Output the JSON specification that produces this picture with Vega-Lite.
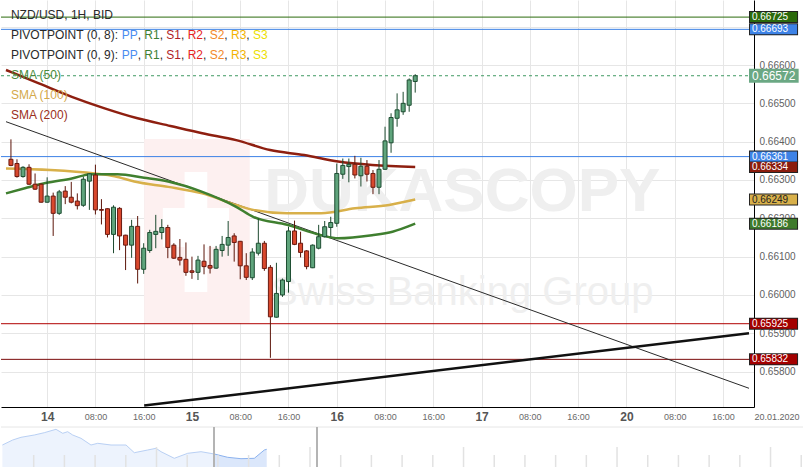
{
  "$schema": "https://vega.github.io/schema/vega-lite/v6.json",
  "padding": 0,
  "background": "white",
  "bounds": "flush",
  "spacing": 20,
  "config": {"view": {"stroke": null}, "font": "Liberation Sans"},
  "datasets": {
    "candles": [
      {"h":-6,"o":0.66354,"hi":0.66406,"lo":0.66336,"c":0.66338},
      {"h":-5,"o":0.66343,"hi":0.66354,"lo":0.66306,"c":0.66309},
      {"h":-4,"o":0.66309,"hi":0.66336,"lo":0.66306,"c":0.66333},
      {"h":-3,"o":0.66333,"hi":0.66341,"lo":0.66287,"c":0.66289},
      {"h":-2,"o":0.66289,"hi":0.66317,"lo":0.66274,"c":0.66276},
      {"h":-1,"o":0.66289,"hi":0.66291,"lo":0.66241,"c":0.66242},
      {"h":0,"o":0.66242,"hi":0.66307,"lo":0.66241,"c":0.66258},
      {"h":1,"o":0.66258,"hi":0.66267,"lo":0.66154,"c":0.66213},
      {"h":2,"o":0.66213,"hi":0.66274,"lo":0.66209,"c":0.66269},
      {"h":3,"o":0.66271,"hi":0.66284,"lo":0.66237,"c":0.66255},
      {"h":4,"o":0.66255,"hi":0.66295,"lo":0.66239,"c":0.66242},
      {"h":5,"o":0.66245,"hi":0.66265,"lo":0.66223,"c":0.66233},
      {"h":6,"o":0.66234,"hi":0.66309,"lo":0.6623,"c":0.66302},
      {"h":7,"o":0.66297,"hi":0.66317,"lo":0.66222,"c":0.66316},
      {"h":8,"o":0.66313,"hi":0.6634,"lo":0.6621,"c":0.66222},
      {"h":9,"o":0.66223,"hi":0.6625,"lo":0.66184,"c":0.66221},
      {"h":10,"o":0.66225,"hi":0.66226,"lo":0.6615,"c":0.66158},
      {"h":11,"o":0.66158,"hi":0.66234,"lo":0.66109,"c":0.66229},
      {"h":12,"o":0.66226,"hi":0.66229,"lo":0.66117,"c":0.66154},
      {"h":13,"o":0.66156,"hi":0.66157,"lo":0.66065,"c":0.6613},
      {"h":14,"o":0.6613,"hi":0.66196,"lo":0.66097,"c":0.66179},
      {"h":15,"o":0.66179,"hi":0.66206,"lo":0.6603,"c":0.66067},
      {"h":16,"o":0.66067,"hi":0.66135,"lo":0.66055,"c":0.66122},
      {"h":17,"o":0.66116,"hi":0.6617,"lo":0.6611,"c":0.66163},
      {"h":18,"o":0.66158,"hi":0.66209,"lo":0.66122,"c":0.66166},
      {"h":19,"o":0.66163,"hi":0.66198,"lo":0.66145,"c":0.66176},
      {"h":20,"o":0.66176,"hi":0.66183,"lo":0.66096,"c":0.66124},
      {"h":21,"o":0.6613,"hi":0.66135,"lo":0.66094,"c":0.66096},
      {"h":22,"o":0.66098,"hi":0.66146,"lo":0.66077,"c":0.66091},
      {"h":23,"o":0.66093,"hi":0.66137,"lo":0.6605,"c":0.66059},
      {"h":24,"o":0.66063,"hi":0.661,"lo":0.66042,"c":0.66059},
      {"h":25,"o":0.66059,"hi":0.66102,"lo":0.66039,"c":0.66091},
      {"h":26,"o":0.66088,"hi":0.66132,"lo":0.66054,"c":0.66074},
      {"h":27,"o":0.66077,"hi":0.66128,"lo":0.66056,"c":0.6607},
      {"h":28,"o":0.6607,"hi":0.66128,"lo":0.66068,"c":0.66119},
      {"h":29,"o":0.66116,"hi":0.66154,"lo":0.661,"c":0.66132},
      {"h":30,"o":0.6613,"hi":0.66193,"lo":0.66102,"c":0.6615},
      {"h":31,"o":0.66154,"hi":0.66161,"lo":0.66087,"c":0.66137},
      {"h":32,"o":0.6614,"hi":0.66141,"lo":0.66041,"c":0.66076},
      {"h":33,"o":0.66076,"hi":0.66109,"lo":0.66039,"c":0.66046},
      {"h":34,"o":0.66045,"hi":0.66122,"lo":0.66039,"c":0.66112},
      {"h":35,"o":0.66109,"hi":0.662,"lo":0.66103,"c":0.66135},
      {"h":36,"o":0.66135,"hi":0.66141,"lo":0.66063,"c":0.66069},
      {"h":37,"o":0.66072,"hi":0.66078,"lo":0.65836,"c":0.65943},
      {"h":38,"o":0.65942,"hi":0.66084,"lo":0.65941,"c":0.66004},
      {"h":39,"o":0.66,"hi":0.66043,"lo":0.65995,"c":0.66039},
      {"h":40,"o":0.66035,"hi":0.66178,"lo":0.66006,"c":0.66167},
      {"h":41,"o":0.66167,"hi":0.66194,"lo":0.6613,"c":0.66132},
      {"h":42,"o":0.66135,"hi":0.66165,"lo":0.66098,"c":0.66111},
      {"h":43,"o":0.66115,"hi":0.66117,"lo":0.66067,"c":0.66074},
      {"h":44,"o":0.66071,"hi":0.66132,"lo":0.6607,"c":0.6613},
      {"h":45,"o":0.66122,"hi":0.66183,"lo":0.66119,"c":0.66152},
      {"h":46,"o":0.66152,"hi":0.66193,"lo":0.6615,"c":0.66178},
      {"h":47,"o":0.66176,"hi":0.66204,"lo":0.66152,"c":0.66189},
      {"h":48,"o":0.66187,"hi":0.66343,"lo":0.66178,"c":0.66317},
      {"h":49,"o":0.66315,"hi":0.66356,"lo":0.66303,"c":0.66338},
      {"h":50,"o":0.66335,"hi":0.66356,"lo":0.66294,"c":0.66341},
      {"h":51,"o":0.66341,"hi":0.66363,"lo":0.66304,"c":0.66313},
      {"h":52,"o":0.66311,"hi":0.66358,"lo":0.66283,"c":0.66336},
      {"h":53,"o":0.66336,"hi":0.66352,"lo":0.66296,"c":0.66315},
      {"h":54,"o":0.66317,"hi":0.66326,"lo":0.66263,"c":0.66281},
      {"h":55,"o":0.66281,"hi":0.66352,"lo":0.66263,"c":0.66328},
      {"h":56,"o":0.66328,"hi":0.66439,"lo":0.66326,"c":0.66402},
      {"h":57,"o":0.66397,"hi":0.66474,"lo":0.66371,"c":0.66463},
      {"h":58,"o":0.66461,"hi":0.66526,"lo":0.66439,"c":0.66483},
      {"h":59,"o":0.66478,"hi":0.6653,"lo":0.6647,"c":0.665},
      {"h":60,"o":0.66495,"hi":0.66565,"lo":0.66478,"c":0.66561},
      {"h":61,"o":0.66557,"hi":0.66576,"lo":0.66528,"c":0.66572}
    ],
    "sma": [
      {"s":"SMA (200)","h":-6.82,"p":0.66587},{"s":"SMA (200)","h":-1.37,"p":0.66552},{"s":"SMA (200)","h":4.09,"p":0.66517},
      {"s":"SMA (200)","h":9.53,"p":0.66487},{"s":"SMA (200)","h":14.98,"p":0.66461},{"s":"SMA (200)","h":20.44,"p":0.66441},
      {"s":"SMA (200)","h":25.71,"p":0.66422},{"s":"SMA (200)","h":31.33,"p":0.66404},{"s":"SMA (200)","h":36.96,"p":0.66378},
      {"s":"SMA (200)","h":42.6,"p":0.66365},{"s":"SMA (200)","h":48.23,"p":0.66348},{"s":"SMA (200)","h":53.85,"p":0.66339},
      {"s":"SMA (200)","h":61,"p":0.66334},
      {"s":"SMA (100)","h":-6.82,"p":0.6633},{"s":"SMA (100)","h":0.54,"p":0.66326},{"s":"SMA (100)","h":7.9,"p":0.66317},
      {"s":"SMA (100)","h":11.17,"p":0.6631},{"s":"SMA (100)","h":14.44,"p":0.66296},{"s":"SMA (100)","h":20.07,"p":0.66282},
      {"s":"SMA (100)","h":25.71,"p":0.66265},{"s":"SMA (100)","h":31.33,"p":0.66235},{"s":"SMA (100)","h":34.15,"p":0.66222},
      {"s":"SMA (100)","h":39.79,"p":0.66213},{"s":"SMA (100)","h":45.41,"p":0.66213},{"s":"SMA (100)","h":51.04,"p":0.66226},
      {"s":"SMA (100)","h":56.68,"p":0.66235},{"s":"SMA (100)","h":61,"p":0.66249},
      {"s":"SMA (50)","h":-6.82,"p":0.66265},{"s":"SMA (50)","h":-3.55,"p":0.66279},{"s":"SMA (50)","h":-0.28,"p":0.66292},
      {"s":"SMA (50)","h":4.09,"p":0.66304},{"s":"SMA (50)","h":7.36,"p":0.66315},{"s":"SMA (50)","h":11.66,"p":0.66315},
      {"s":"SMA (50)","h":16.08,"p":0.66306},{"s":"SMA (50)","h":20.07,"p":0.66296},{"s":"SMA (50)","h":25.71,"p":0.66269},
      {"s":"SMA (50)","h":31.33,"p":0.6623},{"s":"SMA (50)","h":34.15,"p":0.66204},{"s":"SMA (50)","h":39.79,"p":0.66183},
      {"s":"SMA (50)","h":45.41,"p":0.66156},{"s":"SMA (50)","h":48.23,"p":0.66148},{"s":"SMA (50)","h":53.85,"p":0.66156},
      {"s":"SMA (50)","h":57.24,"p":0.66165},{"s":"SMA (50)","h":61,"p":0.66186}
    ],
    "levels": [
      {"k":"R1 (0, 9)","p":0.66725},
      {"k":"PP (0, 9)","p":0.66693},
      {"k":"PP (0, 8)","p":0.66361},
      {"k":"S1 (0, 8)","p":0.65925},
      {"k":"S1 (0, 9)","p":0.65832}
    ],
    "tags": [
      {"k":"R1 (0, 9)","p":0.66725},
      {"k":"PP (0, 9)","p":0.66693},
      {"k":"PP (0, 8)","p":0.66361},
      {"k":"SMA (200)","p":0.66334},
      {"k":"SMA (100)","p":0.66249},
      {"k":"SMA (50)","p":0.66186},
      {"k":"S1 (0, 8)","p":0.65925},
      {"k":"S1 (0, 9)","p":0.65832}
    ],
    "trend": [
      {"line":"thin","h":-6.819,"p":0.664521},
      {"line":"thin","h":116.32,"p":0.657565},
      {"line":"thick","h":16.08,"p":0.657116},
      {"line":"thick","h":116.32,"p":0.659}
    ],
    "nav": [
      {"t":-0.02,"v":0.6616},{"t":0.316,"v":0.6631},{"t":0.586,"v":0.66391},{"t":1.02,"v":0.6646},
      {"t":1.345,"v":0.66529},{"t":1.726,"v":0.66631},{"t":1.945,"v":0.66511},{"t":2.107,"v":0.66559},
      {"t":2.27,"v":0.6646},{"t":2.541,"v":0.66361},{"t":2.866,"v":0.6616},{"t":3.085,"v":0.66211},
      {"t":3.518,"v":0.6616},{"t":4.007,"v":0.6616},{"t":4.277,"v":0.65929},{"t":4.713,"v":0.6601},
      {"t":4.984,"v":0.66061},{"t":5.147,"v":0.65959},{"t":5.58,"v":0.65761},{"t":6.016,"v":0.65911},
      {"t":6.45,"v":0.65959},{"t":6.883,"v":0.6589},{"t":7.319,"v":0.65791},{"t":7.752,"v":0.65749},
      {"t":8.186,"v":0.65761},{"t":8.511,"v":0.6601},{"t":8.59,"v":0.66031}
    ],
    "navdays": [
      {"t":1},{"t":2},{"t":3},{"t":4},{"t":6},{"t":7},{"t":8},{"t":9},{"t":11},{"t":12},{"t":13},{"t":14},
      {"t":16},{"t":17},{"t":18},{"t":19},{"t":21},{"t":22},{"t":23},{"t":24},{"t":26}
    ],
    "navweeks": [{"t":5},{"t":10},{"t":15},{"t":20},{"t":25}],
    "handles": [{"t":6.873},{"t":10.228}]
  },
  "vconcat": [
    {
      "width": 753,
      "height": 407,
      "resolve": {"scale": {"color": "independent"}},
      "layer": [
        {
          "data": {"values": [{}]},
          "mark": {"type": "rect", "color": "#fdf0f0"},
          "encoding": {
            "x": {
              "datum": 16.08, "type": "quantitative",
              "scale": {"domain": [-6.819, 116.32], "nice": false, "zero": false},
              "axis": {
                "title": "20.01.2020", "titleX": 753, "titleY": 9, "titleAlign": "left", "titleBaseline": "middle",
                "titleFontSize": 9, "titleFontWeight": "normal", "titleColor": "#666666", "titleAngle": 0,
                "values": [0, 8, 16, 24, 32, 40, 48, 56, 64, 72, 80, 88, 96, 104, 112],
                "labelExpr": "datum.value == 0 ? '14' : datum.value == 24 ? '15' : datum.value == 48 ? '16' : datum.value == 72 ? '17' : datum.value == 96 ? '20' : datum.value % 24 == 8 ? '08:00' : '16:00'",
                "labelFontSize": {"condition": {"test": "datum.value % 24 == 0", "value": 12}, "value": 9},
                "labelFontWeight": {"condition": {"test": "datum.value % 24 == 0", "value": "bold"}, "value": "normal"},
                "labelColor": {"condition": {"test": "datum.value % 24 == 0", "value": "#555555"}, "value": "#6a6a6a"},
                "labelBaseline": "middle", "labelPadding": 9, "labelOverlap": false,
                "ticks": false, "grid": true, "gridColor": "#e6e6e6", "domainColor": "#000000", "domainWidth": 1
              }
            },
            "x2": {"datum": 33.57},
            "y": {
              "datum": 0.664069, "type": "quantitative",
              "scale": {"domain": [0.657077, 0.667696], "nice": false, "zero": false},
              "axis": {
                "orient": "right", "title": null,
                "values": [0.658, 0.659, 0.66, 0.661, 0.662, 0.663, 0.664, 0.665, 0.666, 0.667],
                "labelExpr": "datum.value > 0.6665 ? '' : format(datum.value, '.5f')",
                "ticks": false, "grid": true, "gridColor": "#e6e6e6",
                "domainColor": "#000000", "domainWidth": 1, "labelPadding": 5, "labelFontSize": 10,
                "labelColor": "#5f5f5f", "labelOverlap": false
              }
            },
            "y2": {"datum": 0.659269}
          }
        },
        {
          "data": {"values": [{}]},
          "mark": {"type": "rect", "color": "#ffffff"},
          "encoding": {
            "x": {"datum": 22.78, "type": "quantitative"}, "x2": {"datum": 26.54},
            "y": {"datum": 0.663208, "type": "quantitative"}, "y2": {"datum": 0.660078}
          }
        },
        {
          "data": {"values": [{}]},
          "mark": {"type": "rect", "color": "#ffffff"},
          "encoding": {
            "x": {"datum": 19.18, "type": "quantitative"}, "x2": {"datum": 30.14},
            "y": {"datum": 0.662269, "type": "quantitative"}, "y2": {"datum": 0.661252}
          }
        },
        {
          "data": {"values": [{}]},
          "mark": {"type": "text", "text": "DUKASCOPY", "fontSize": 62, "fontWeight": "bold", "color": "#efefef", "align": "center", "baseline": "alphabetic"},
          "encoding": {"x": {"datum": 68.8, "type": "quantitative"}, "y": {"datum": 0.662186, "type": "quantitative"}}
        },
        {
          "data": {"values": [{}]},
          "mark": {"type": "text", "text": "Swiss Banking Group", "fontSize": 40, "color": "#efefef", "align": "center", "baseline": "alphabetic"},
          "encoding": {"x": {"datum": 68.8, "type": "quantitative"}, "y": {"datum": 0.659738, "type": "quantitative"}}
        },
        {
          "data": {"name": "levels"},
          "mark": {"type": "rule", "strokeWidth": 1},
          "encoding": {
            "y": {"field": "p", "type": "quantitative"},
            "color": {
              "field": "k", "type": "nominal", "legend": null,
              "scale": {"domain": ["R1 (0, 9)", "PP (0, 9)", "PP (0, 8)", "S1 (0, 8)", "S1 (0, 9)"],
                        "range": ["#2b6a0c", "#3d82e6", "#3d82e6", "#b00000", "#7a0a0a"]}
            }
          }
        },
        {
          "data": {"values": [{}]},
          "mark": {"type": "rule", "color": "#3f9a62", "strokeDash": [3, 3], "strokeWidth": 1},
          "encoding": {"y": {"datum": 0.66572, "type": "quantitative"}}
        },
        {
          "data": {"name": "trend"},
          "transform": [{"filter": "datum.line == 'thin'"}],
          "mark": {"type": "line", "color": "#2a2a2a", "strokeWidth": 1, "clip": true},
          "encoding": {"x": {"field": "h", "type": "quantitative"}, "y": {"field": "p", "type": "quantitative"}}
        },
        {
          "data": {"name": "trend"},
          "transform": [{"filter": "datum.line == 'thick'"}],
          "mark": {"type": "line", "color": "#111111", "strokeWidth": 2.5, "clip": true},
          "encoding": {"x": {"field": "h", "type": "quantitative"}, "y": {"field": "p", "type": "quantitative"}}
        },
        {
          "data": {"name": "sma"},
          "mark": {"type": "line", "strokeWidth": 2.5, "interpolate": "monotone", "clip": true},
          "encoding": {
            "x": {"field": "h", "type": "quantitative"},
            "y": {"field": "p", "type": "quantitative"},
            "color": {
              "field": "s", "type": "nominal", "legend": null,
              "scale": {"domain": ["SMA (50)", "SMA (100)", "SMA (200)"], "range": ["#3f7f2f", "#d8b04a", "#8e1f10"]}
            }
          }
        },
        {
          "data": {"name": "candles"},
          "mark": {"type": "rule", "strokeWidth": 1},
          "encoding": {
            "x": {"field": "h", "type": "quantitative"},
            "y": {"field": "lo", "type": "quantitative"},
            "y2": {"field": "hi"},
            "color": {"condition": {"test": "datum.c >= datum.o", "value": "#1d4a2f"}, "value": "#5c1509"}
          }
        },
        {
          "data": {"name": "candles"},
          "mark": {"type": "bar", "width": 4, "strokeWidth": 1},
          "encoding": {
            "x": {"field": "h", "type": "quantitative"},
            "y": {"field": "o", "type": "quantitative"},
            "y2": {"field": "c"},
            "fill": {"condition": {"test": "datum.c >= datum.o", "value": "#5fa47c"}, "value": "#d9482d"},
            "stroke": {"condition": {"test": "datum.c >= datum.o", "value": "#1e4d32"}, "value": "#6a1a10"}
          }
        },
        {
          "data": {"values": [{}]},
          "mark": {"type": "text", "text": ["NZD/USD, 1H, BID", "PIVOTPOINT (0, 8):", "PIVOTPOINT (0, 9):"], "align": "left", "baseline": "top", "lineHeight": 20, "fontSize": 12, "color": "#2a2a2a"},
          "encoding": {"x": {"datum": -6.0, "type": "quantitative"}, "y": {"datum": 0.667427, "type": "quantitative"}}
        },
        {
          "data": {"values": [{}]},
          "mark": {"type": "text", "text": ["PP", "PP"], "dx": 110.7, "align": "left", "baseline": "top", "lineHeight": 20, "fontSize": 12, "color": "#4a8cf0"},
          "encoding": {"x": {"datum": -6.0, "type": "quantitative"}, "y": {"datum": 0.666905, "type": "quantitative"}}
        },
        {
          "data": {"values": [{}]},
          "mark": {"type": "text", "text": [",", ","], "dx": 126.7, "align": "left", "baseline": "top", "lineHeight": 20, "fontSize": 12, "color": "#2a2a2a"},
          "encoding": {"x": {"datum": -6.0, "type": "quantitative"}, "y": {"datum": 0.666905, "type": "quantitative"}}
        },
        {
          "data": {"values": [{}]},
          "mark": {"type": "text", "text": ["R1", "R1"], "dx": 133.4, "align": "left", "baseline": "top", "lineHeight": 20, "fontSize": 12, "color": "#3c7f33"},
          "encoding": {"x": {"datum": -6.0, "type": "quantitative"}, "y": {"datum": 0.666905, "type": "quantitative"}}
        },
        {
          "data": {"values": [{}]},
          "mark": {"type": "text", "text": [",", ","], "dx": 148.7, "align": "left", "baseline": "top", "lineHeight": 20, "fontSize": 12, "color": "#2a2a2a"},
          "encoding": {"x": {"datum": -6.0, "type": "quantitative"}, "y": {"datum": 0.666905, "type": "quantitative"}}
        },
        {
          "data": {"values": [{}]},
          "mark": {"type": "text", "text": ["S1", "S1"], "dx": 155.4, "align": "left", "baseline": "top", "lineHeight": 20, "fontSize": 12, "color": "#b01e28"},
          "encoding": {"x": {"datum": -6.0, "type": "quantitative"}, "y": {"datum": 0.666905, "type": "quantitative"}}
        },
        {
          "data": {"values": [{}]},
          "mark": {"type": "text", "text": [",", ","], "dx": 170.1, "align": "left", "baseline": "top", "lineHeight": 20, "fontSize": 12, "color": "#2a2a2a"},
          "encoding": {"x": {"datum": -6.0, "type": "quantitative"}, "y": {"datum": 0.666905, "type": "quantitative"}}
        },
        {
          "data": {"values": [{}]},
          "mark": {"type": "text", "text": ["R2", "R2"], "dx": 176.7, "align": "left", "baseline": "top", "lineHeight": 20, "fontSize": 12, "color": "#e62222"},
          "encoding": {"x": {"datum": -6.0, "type": "quantitative"}, "y": {"datum": 0.666905, "type": "quantitative"}}
        },
        {
          "data": {"values": [{}]},
          "mark": {"type": "text", "text": [",", ","], "dx": 192.1, "align": "left", "baseline": "top", "lineHeight": 20, "fontSize": 12, "color": "#2a2a2a"},
          "encoding": {"x": {"datum": -6.0, "type": "quantitative"}, "y": {"datum": 0.666905, "type": "quantitative"}}
        },
        {
          "data": {"values": [{}]},
          "mark": {"type": "text", "text": ["S2", "S2"], "dx": 198.7, "align": "left", "baseline": "top", "lineHeight": 20, "fontSize": 12, "color": "#f2882a"},
          "encoding": {"x": {"datum": -6.0, "type": "quantitative"}, "y": {"datum": 0.666905, "type": "quantitative"}}
        },
        {
          "data": {"values": [{}]},
          "mark": {"type": "text", "text": [",", ","], "dx": 213.4, "align": "left", "baseline": "top", "lineHeight": 20, "fontSize": 12, "color": "#2a2a2a"},
          "encoding": {"x": {"datum": -6.0, "type": "quantitative"}, "y": {"datum": 0.666905, "type": "quantitative"}}
        },
        {
          "data": {"values": [{}]},
          "mark": {"type": "text", "text": ["R3", "R3"], "dx": 220.1, "align": "left", "baseline": "top", "lineHeight": 20, "fontSize": 12, "color": "#f3b300"},
          "encoding": {"x": {"datum": -6.0, "type": "quantitative"}, "y": {"datum": 0.666905, "type": "quantitative"}}
        },
        {
          "data": {"values": [{}]},
          "mark": {"type": "text", "text": [",", ","], "dx": 235.4, "align": "left", "baseline": "top", "lineHeight": 20, "fontSize": 12, "color": "#2a2a2a"},
          "encoding": {"x": {"datum": -6.0, "type": "quantitative"}, "y": {"datum": 0.666905, "type": "quantitative"}}
        },
        {
          "data": {"values": [{}]},
          "mark": {"type": "text", "text": ["S3", "S3"], "dx": 242.1, "align": "left", "baseline": "top", "lineHeight": 20, "fontSize": 12, "color": "#ece000"},
          "encoding": {"x": {"datum": -6.0, "type": "quantitative"}, "y": {"datum": 0.666905, "type": "quantitative"}}
        },
        {
          "data": {"values": [{}]},
          "mark": {"type": "text", "text": "SMA (50)", "align": "left", "baseline": "top", "fontSize": 12, "color": "#4a8a3c"},
          "encoding": {"x": {"datum": -6.0, "type": "quantitative"}, "y": {"datum": 0.665862, "type": "quantitative"}}
        },
        {
          "data": {"values": [{}]},
          "mark": {"type": "text", "text": "SMA (100)", "align": "left", "baseline": "top", "fontSize": 12, "color": "#d4a94b"},
          "encoding": {"x": {"datum": -6.0, "type": "quantitative"}, "y": {"datum": 0.66534, "type": "quantitative"}}
        },
        {
          "data": {"values": [{}]},
          "mark": {"type": "text", "text": "SMA (200)", "align": "left", "baseline": "top", "fontSize": 12, "color": "#9b3020"},
          "encoding": {"x": {"datum": -6.0, "type": "quantitative"}, "y": {"datum": 0.664818, "type": "quantitative"}}
        },
        {
          "data": {"name": "tags"},
          "mark": {"type": "rule", "strokeWidth": 12, "color": "#222222", "clip": false},
          "encoding": {
            "x": {"datum": 116.32, "type": "quantitative"}, "x2": {"datum": 124.45},
            "y": {"field": "p", "type": "quantitative"}
          }
        },
        {
          "data": {"name": "tags"},
          "mark": {"type": "rule", "strokeWidth": 10, "clip": false},
          "encoding": {
            "x": {"datum": 116.48, "type": "quantitative"}, "x2": {"datum": 124.29},
            "y": {"field": "p", "type": "quantitative"},
            "color": {
              "field": "k", "type": "nominal", "legend": null,
              "scale": {"domain": ["R1 (0, 9)", "PP (0, 9)", "PP (0, 8)", "SMA (200)", "SMA (100)", "SMA (50)", "S1 (0, 8)", "S1 (0, 9)"],
                        "range": ["#2b6a0c", "#3d82e6", "#3d82e6", "#8b1d0e", "#d8b04a", "#3e7a2c", "#a30000", "#a30000"]}
            }
          }
        },
        {
          "data": {"name": "tags"},
          "mark": {"type": "text", "align": "left", "baseline": "middle", "fontSize": 10, "dx": 2, "clip": false},
          "encoding": {
            "x": {"datum": 116.48, "type": "quantitative"},
            "y": {"field": "p", "type": "quantitative"},
            "text": {"field": "p", "type": "quantitative", "format": ".5f"},
            "color": {"condition": {"test": "datum.k == 'SMA (100)'", "value": "#222222"}, "value": "#ffffff"}
          }
        },
        {
          "data": {"values": [{}]},
          "mark": {"type": "rule", "strokeWidth": 14, "color": "#6ba884", "clip": false},
          "encoding": {
            "x": {"datum": 116.32, "type": "quantitative"}, "x2": {"datum": 124.55},
            "y": {"datum": 0.66572, "type": "quantitative"}
          }
        },
        {
          "data": {"values": [{}]},
          "mark": {"type": "text", "text": "0.66572", "align": "left", "baseline": "middle", "fontSize": 12, "dx": 2, "color": "#ffffff", "clip": false},
          "encoding": {
            "x": {"datum": 116.48, "type": "quantitative"},
            "y": {"datum": 0.66572, "type": "quantitative"}
          }
        }
      ]
    },
    {
      "width": 803,
      "height": 40,
      "layer": [
        {
          "data": {"values": [{}]},
          "mark": {"type": "rule", "color": "#e6e6e6", "strokeWidth": 1},
          "encoding": {
            "y": {"datum": 0.667, "type": "quantitative", "scale": {"domain": [0.655, 0.667], "nice": false, "zero": false}, "axis": null}
          }
        },
        {
          "data": {"name": "nav"},
          "transform": [{"filter": "datum.t <= 6.883"}],
          "mark": {"type": "area", "color": "#edf3fd"},
          "encoding": {
            "x": {"field": "t", "type": "quantitative", "scale": {"domain": [-0.065, 26.09], "nice": false, "zero": false}, "axis": null},
            "y": {"field": "v", "type": "quantitative", "axis": null}
          }
        },
        {
          "data": {"name": "nav"},
          "transform": [{"filter": "datum.t <= 6.883"}],
          "mark": {"type": "line", "color": "#b9d0f4", "strokeWidth": 1},
          "encoding": {"x": {"field": "t", "type": "quantitative"}, "y": {"field": "v", "type": "quantitative"}}
        },
        {
          "data": {"name": "nav"},
          "transform": [{"filter": "datum.t >= 6.883"}],
          "mark": {"type": "area", "color": "#dbe7fb"},
          "encoding": {"x": {"field": "t", "type": "quantitative"}, "y": {"field": "v", "type": "quantitative"}}
        },
        {
          "data": {"name": "nav"},
          "transform": [{"filter": "datum.t >= 6.883"}],
          "mark": {"type": "line", "color": "#8cb2ee", "strokeWidth": 1},
          "encoding": {"x": {"field": "t", "type": "quantitative"}, "y": {"field": "v", "type": "quantitative"}}
        },
        {
          "data": {"name": "navdays"},
          "mark": {"type": "rule", "color": "#e2e2e2", "strokeWidth": 1.5},
          "encoding": {
            "x": {"field": "t", "type": "quantitative"},
            "y": {"datum": 0.655, "type": "quantitative"}, "y2": {"datum": 0.6586}
          }
        },
        {
          "data": {"name": "navweeks"},
          "mark": {"type": "rule", "color": "#e2e2e2", "strokeWidth": 1.5},
          "encoding": {
            "x": {"field": "t", "type": "quantitative"},
            "y": {"datum": 0.655, "type": "quantitative"}, "y2": {"datum": 0.661}
          }
        },
        {
          "data": {"name": "handles"},
          "mark": {"type": "rule", "color": "#b4b4b4", "strokeWidth": 2},
          "encoding": {"x": {"field": "t", "type": "quantitative"}}
        }
      ]
    }
  ]
}
